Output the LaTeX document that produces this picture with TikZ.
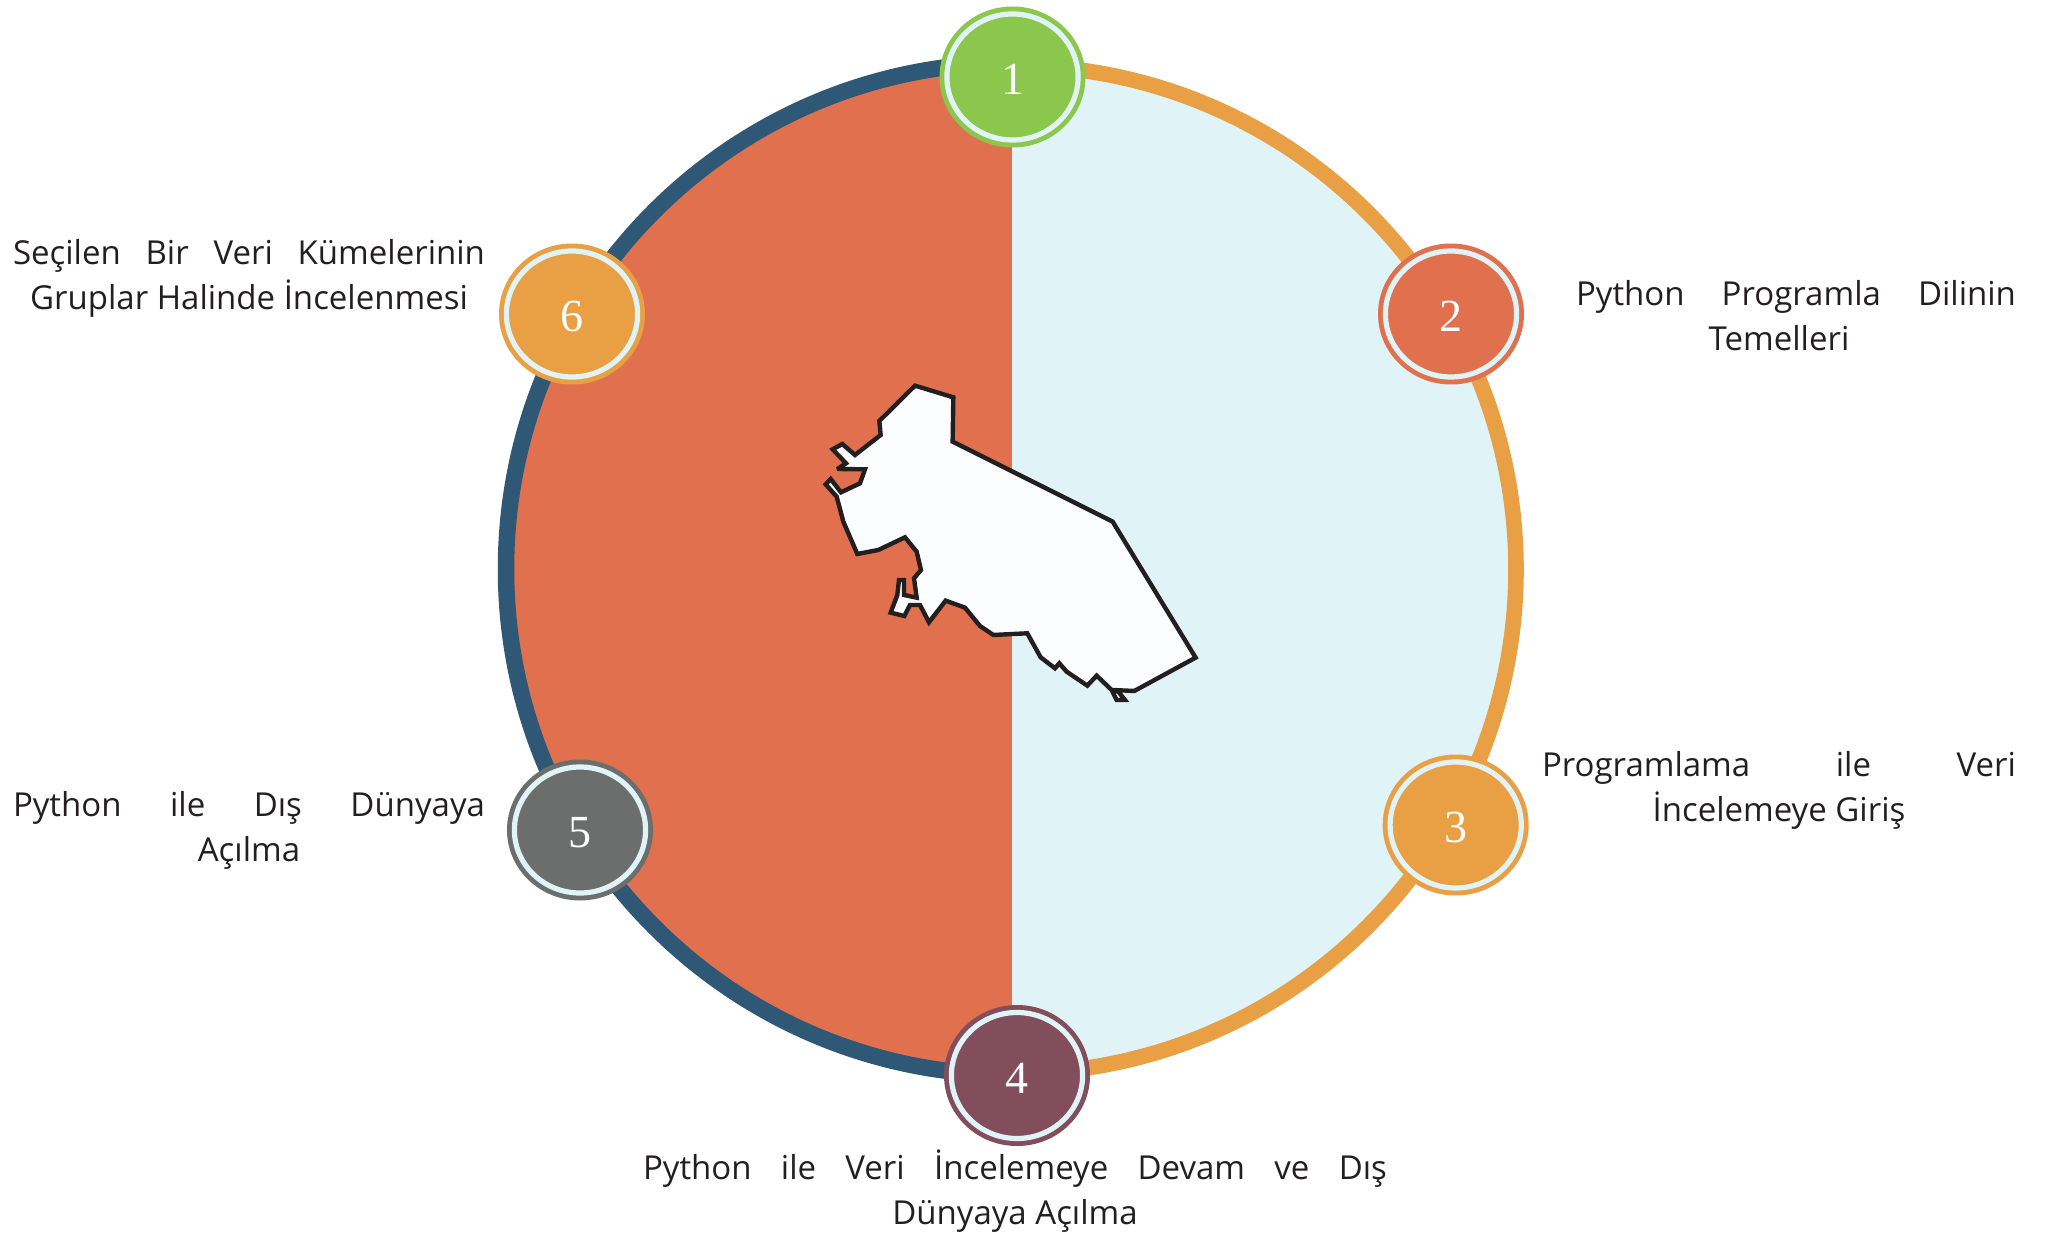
\documentclass[tikz,border=0pt]{standalone}
\usepackage{fontspec}
\usetikzlibrary{shapes.geometric}
\setmainfont{Open Sans}
\newfontfamily\numfont{Liberation Serif}
\definecolor{leftfill}{HTML}{E1704F}
\definecolor{rightfill}{HTML}{E0F3F6}
\definecolor{ringright}{HTML}{E9A045}
\definecolor{ringleft}{HTML}{2E5875}
\definecolor{cgreen}{HTML}{8BC74D}
\definecolor{cplum}{HTML}{834E5B}
\definecolor{cgrey}{HTML}{6B6E6D}
\definecolor{ink}{HTML}{231F20}
\definecolor{mapfill}{HTML}{FBFDFE}
\tikzset{
  badge/.style={ellipse,fill=#1,minimum width=146pt,minimum height=141pt,inner sep=0pt},
  numtxt/.style={text=white,font=\numfont\fontsize{46}{46}\selectfont},
  lab/.style={inner sep=0pt,text=ink,align=center,font=\fontsize{33}{45}\selectfont}
}
\newcommand{\badgeat}[4]{%
  \node[badge=#3] (#1) at (#2) {};
  \draw[rightfill,line width=5.2pt] (#1) ellipse[x radius=65.6pt,y radius=63pt];
  \node[numtxt,yshift=-2.5pt] (#1n) at (#1) {#4};
}
\begin{document}
\begin{tikzpicture}[x=1pt,y=-1pt]
\useasboundingbox (0,0) rectangle (2057,1233);
\fill[leftfill] (1012.5,63) arc[start angle=90,end angle=270,radius=506pt] -- cycle;
\fill[rightfill] (1012,65.5) arc[start angle=90,end angle=-90,radius=504pt] -- cycle;
\draw[ringright,line width=15.6pt] (1012,65.5) arc[start angle=90,end angle=-90,radius=504pt];
\draw[ringleft,line width=16.5pt] (1012,63) arc[start angle=90,end angle=270,radius=506pt];
\begin{scope}[shift={(810,370)},x=0.3333pt,y=-0.3333pt]
\filldraw[draw=ink,fill=mapfill,line width=4.4pt,line join=miter,miter limit=3]
 (428,215)--(908,455)--(1157,863)--(973,963)--(905,960)--(920,990)--(945,990)--(925,965)--(905,960)
 --(860,917)--(832,947)--(770,905)--(748,880)--(735,895)--(692,862)--(652,790)--(550,795)--(510,768)
 --(465,713)--(407,692)--(357,757)--(330,705)--(300,705)--(283,738)--(242,728)--(262,675)--(267,630)
 --(282,630)--(282,675)--(320,683)--(312,625)--(333,600)--(320,545)--(285,502)--(205,540)--(142,552)
 --(100,455)--(80,380)--(47,343)--(62,327)--(93,367)--(150,340)--(165,298)--(82,297)--(108,280)
 --(68,238)--(97,222)--(135,255)--(212,195)--(208,153)--(315,47)--(430,82)--cycle;
\end{scope}
\badgeat{b1}{1012.5,77}{cgreen}{1}
\badgeat{b2}{1451,314}{leftfill}{2}
\badgeat{b3}{1455.7,825}{ringright}{3}
\badgeat{b4}{1017,1075.5}{cplum}{4}
\badgeat{b5}{580,830}{cgrey}{5}
\badgeat{b6}{572,314}{ringright}{6}
\node[lab] (t6) at (249,278.5) {\hbox to 472pt{Seçilen\hfill Bir\hfill Veri\hfill Kümelerinin}\\Gruplar Halinde İncelenmesi};
\node[lab] (t2) at (1779,316) {\hbox to 474pt{\hskip 34pt Python\hfill Programla\hfill Dilinin}\\Temelleri};
\node[lab] (t3) at (1779,790) {\hbox to 474pt{Programlama\hfill ile\hfill Veri}\\İncelemeye Giriş};
\node[lab] (t5) at (249,830) {\hbox to 472pt{Python\hfill ile\hfill Dış\hfill Dünyaya}\\Açılma};
\node[lab] (t4) at (1015,1191) {\hbox to 744pt{Python\hfill ile\hfill Veri\hfill İncelemeye\hfill Devam\hfill ve\hfill Dış}\\Dünyaya Açılma};
\end{tikzpicture}
\end{document}
